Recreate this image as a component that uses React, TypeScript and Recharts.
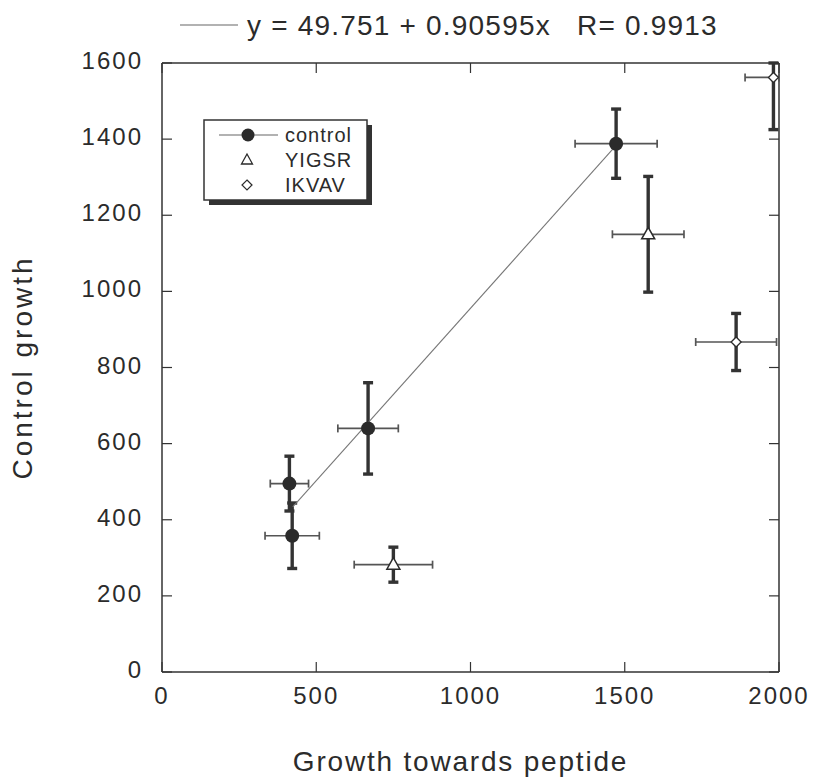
import React from "react";
import { ScatterChart, Scatter, XAxis, YAxis, ErrorBar, Legend, ReferenceLine } from "recharts";

const xTicks = [0, 500, 1000, 1500, 2000];
const yTicks = [0, 200, 400, 600, 800, 1000, 1200, 1400, 1600];
const xDomain = [0, 2000];
const yDomain = [0, 1600];

const controlX = [1472, 668, 413, 422];
const controlY = [1388, 640, 495, 358];
const controlXErr = [133, 98, 62, 88];
const controlYErr = [91, 120, 72, 86];

const yigsrX = [750, 1576];
const yigsrY = [282, 1150];
const yigsrXErr = [127, 116];
const yigsrYErr = [46, 152];

const ikvavX = [1861, 1982];
const ikvavY = [867, 1562];
const ikvavXErr = [131, 92];
const ikvavYErr = [75, 137];

const fitIntercept = 49.751;
const fitSlope = 0.90595;
const fitR = 0.9913;
const fitXRange = [424, 1472];

// error bars are clipped at the plot frame, as in the original figure
const build = (xs: number[], ys: number[], exs: number[], eys: number[]) =>
  xs.map((x, i) => ({
    x,
    y: ys[i],
    ex: [Math.min(exs[i], x - xDomain[0]), Math.min(exs[i], xDomain[1] - x)],
    ey: [Math.min(eys[i], ys[i] - yDomain[0]), Math.min(eys[i], yDomain[1] - ys[i])],
  }));

const controlData = build(controlX, controlY, controlXErr, controlYErr);
const yigsrData = build(yigsrX, yigsrY, yigsrXErr, yigsrYErr);
const ikvavData = build(ikvavX, ikvavY, ikvavXErr, ikvavYErr);
const fitData = fitXRange.map((x) => ({ x, y: fitIntercept + fitSlope * x }));

const INK = "#2b2b2b";
const FRAME = "#333";
const FONT = "'Liberation Sans', Arial, sans-serif";
const PLOT = { left: 162, right: 779, top: 63, bottom: 672 };
const TICK_LEN = 10;

const Circle = (p: any) => <circle cx={p.cx} cy={p.cy} r={7} fill={INK} />;
const Tri = (p: any) => (
  <polygon
    points={`${p.cx},${p.cy - 7} ${p.cx - 6.5},${p.cy + 4.5} ${p.cx + 6.5},${p.cy + 4.5}`}
    fill="#fff"
    stroke={INK}
    strokeWidth={1.5}
  />
);
const Diamond = (p: any) => (
  <polygon
    points={`${p.cx},${p.cy - 5} ${p.cx + 5},${p.cy} ${p.cx},${p.cy + 5} ${p.cx - 5},${p.cy}`}
    fill="#fff"
    stroke={INK}
    strokeWidth={1.3}
  />
);
const NoShape = () => <g />;

const XTick = (p: any) => (
  <g>
    <line x1={p.x} y1={PLOT.bottom} x2={p.x} y2={PLOT.bottom - TICK_LEN} stroke={FRAME} strokeWidth={1.2} />
    <line x1={p.x} y1={PLOT.top} x2={p.x} y2={PLOT.top + TICK_LEN} stroke={FRAME} strokeWidth={1.2} />
    <text x={p.x} y={p.y} dy={17} textAnchor="middle" fontFamily={FONT} fontSize={24} letterSpacing={2} fill={INK}>
      {p.payload.value}
    </text>
  </g>
);
const YTick = (p: any) => (
  <g>
    <line x1={PLOT.left} y1={p.y} x2={PLOT.left + TICK_LEN} y2={p.y} stroke={FRAME} strokeWidth={1.2} />
    <line x1={PLOT.right} y1={p.y} x2={PLOT.right - TICK_LEN} y2={p.y} stroke={FRAME} strokeWidth={1.2} />
    <text x={p.x} y={p.y} dy={6} textAnchor="end" fontFamily={FONT} fontSize={24} letterSpacing={2} fill={INK}>
      {p.payload.value}
    </text>
  </g>
);

const XTitle = (p: any) => {
  const vb = p.viewBox || { x: 162, y: 672, width: 617, height: 109 };
  return (
    <text x={vb.x + vb.width / 2 - 10} y={771} textAnchor="middle" fontFamily={FONT} fontSize={28} letterSpacing={1.8} fill={INK}>
      Growth towards peptide
    </text>
  );
};
const YTitle = (p: any) => {
  const vb = p.viewBox || { x: 0, y: 63, width: 162, height: 609 };
  const cy = vb.y + vb.height / 2;
  return (
    <text x={32} y={cy} transform={`rotate(-90, 32, ${cy})`} textAnchor="middle" fontFamily={FONT} fontSize={28} letterSpacing={3} fill={INK}>
      Control growth
    </text>
  );
};

const Overlay = () => (
  <svg width={816} height={781} style={{ position: "absolute", left: 0, top: 0, pointerEvents: "none" }}>
    <line x1={180} y1={25} x2={238} y2={25} stroke="#666" strokeWidth={1.2} />
    <text x={247} y={35} fontFamily={FONT} fontSize={28} letterSpacing={1.2} fill={INK}>
      {`y = ${fitIntercept} + ${fitSlope}x`}
    </text>
    <text x={577} y={35} fontFamily={FONT} fontSize={28} letterSpacing={1.2} fill={INK}>
      {`R= ${fitR}`}
    </text>
    <rect x={209} y={125} width={163} height={80} fill="#333" />
    <rect x={204} y={120} width={163} height={80} fill="#fff" stroke="#333" strokeWidth={1.5} />
    <line x1={219} y1={135} x2={278} y2={135} stroke="#666" strokeWidth={1.2} />
    <circle cx={248} cy={135} r={6.5} fill={INK} />
    <text x={285} y={142} fontFamily={FONT} fontSize={20} letterSpacing={1} fill={INK}>control</text>
    <polygon points="247,154 241.5,164 252.5,164" fill="#fff" stroke={INK} strokeWidth={1.3} />
    <text x={285} y={167} fontFamily={FONT} fontSize={20} letterSpacing={1} fill={INK}>YIGSR</text>
    <polygon points="247,180 252,185 247,190 242,185" fill="#fff" stroke={INK} strokeWidth={1.2} />
    <text x={285} y={192} fontFamily={FONT} fontSize={20} letterSpacing={1} fill={INK}>IKVAV</text>
  </svg>
);

const vErr = { stroke: "#333", strokeWidth: 3.4 };
const hErr = { stroke: "#555", strokeWidth: 1.7 };

export default function App() {
  return (
    <div style={{ position: "absolute", left: 0, top: 0, width: 816, height: 781, background: "#fff" }}>
      <ScatterChart width={816} height={781} margin={{ top: 63, right: 37, left: 0, bottom: 0 }}>
        <XAxis
          dataKey="x"
          type="number"
          domain={xDomain}
          ticks={xTicks}
          allowDataOverflow
          height={109}
          tickSize={0}
          tickMargin={15}
          tick={<XTick />}
          axisLine={{ stroke: FRAME, strokeWidth: 1.5 }}
          tickLine={false}
          label={<XTitle />}
        />
        <YAxis
          dataKey="y"
          type="number"
          domain={yDomain}
          ticks={yTicks}
          allowDataOverflow
          width={162}
          tickSize={0}
          tickMargin={19}
          tick={<YTick />}
          axisLine={{ stroke: FRAME, strokeWidth: 1.5 }}
          tickLine={false}
          label={<YTitle />}
        />
        <ReferenceLine y={yDomain[1]} stroke={FRAME} strokeWidth={1.5} ifOverflow="visible" />
        <ReferenceLine x={xDomain[1]} stroke={FRAME} strokeWidth={1.5} ifOverflow="visible" />
        <Legend layout="vertical" align="center" verticalAlign="middle" content={() => <Overlay />}
          wrapperStyle={{ position: "absolute", left: 0, top: 0, width: 816, height: 781, pointerEvents: "none" }} />
        <Scatter name="fit" data={fitData} line={{ stroke: "#777", strokeWidth: 1.1 }} shape={NoShape} isAnimationActive={false} legendType="none" />
        <Scatter name="control" data={controlData} shape={Circle} isAnimationActive={false}>
          <ErrorBar dataKey="ex" direction="x" width={4} {...hErr} isAnimationActive={false} />
          <ErrorBar dataKey="ey" direction="y" width={5} {...vErr} isAnimationActive={false} />
        </Scatter>
        <Scatter name="YIGSR" data={yigsrData} shape={Tri} isAnimationActive={false}>
          <ErrorBar dataKey="ex" direction="x" width={4} {...hErr} isAnimationActive={false} />
          <ErrorBar dataKey="ey" direction="y" width={5} {...vErr} isAnimationActive={false} />
        </Scatter>
        <Scatter name="IKVAV" data={ikvavData} shape={Diamond} isAnimationActive={false}>
          <ErrorBar dataKey="ex" direction="x" width={4} {...hErr} isAnimationActive={false} />
          <ErrorBar dataKey="ey" direction="y" width={5} {...vErr} isAnimationActive={false} />
        </Scatter>
      </ScatterChart>
    </div>
  );
}
